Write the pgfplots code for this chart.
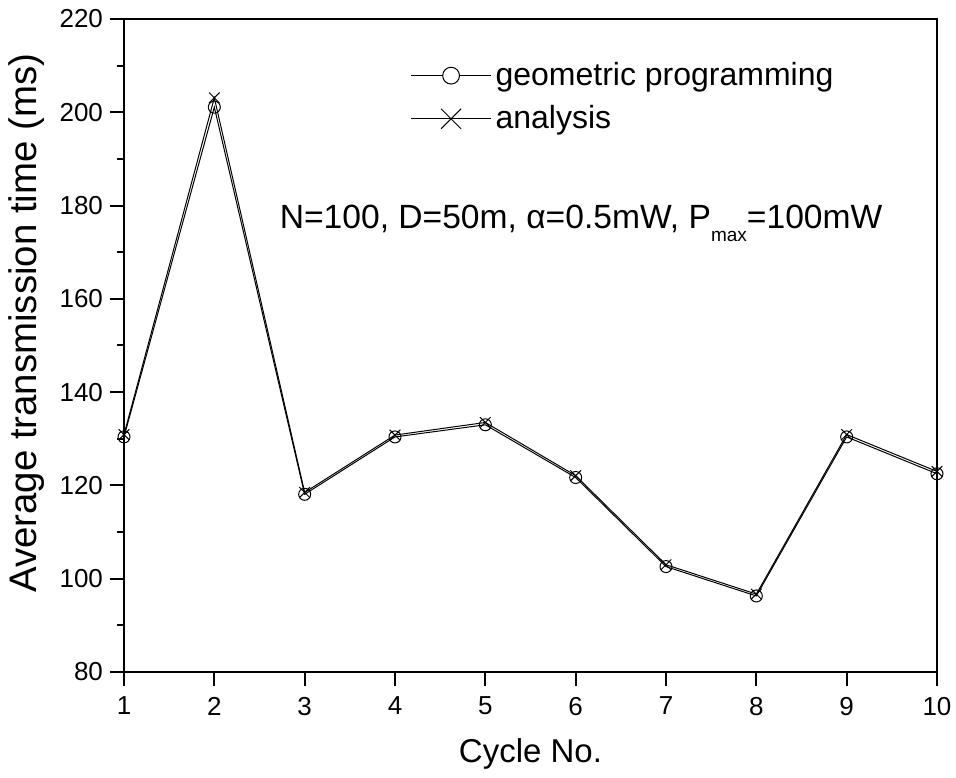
\documentclass[border=0pt]{standalone}
\usepackage{pgfplots}
\pgfplotsset{compat=1.18}
\usepackage{fontspec}
\setmainfont{Liberation Sans}
\begin{document}
\begin{tikzpicture}
\useasboundingbox (-62bp,-53bp) rectangle (416bp,336bp);
\begin{axis}[
  scale only axis,
  width=406.5bp, height=326.5bp,
  xmin=1, xmax=10, ymin=80, ymax=220,
  xtick={1,2,...,10},
  ytick={80,100,...,220},
  minor y tick num=1,
  xtick pos=bottom, ytick pos=left,
  tick align=outside,
  major tick length=7bp, minor tick length=3.5bp,
  axis line style={line width=1bp},
  every tick/.style={line width=1bp, black},
  tick label style={font=\fontsize{13bp}{15bp}\selectfont},
  xticklabel style={yshift=-2bp},
  /pgf/number format/assume math mode=true,
  xlabel={Cycle No.},
  ylabel={Average transmission time (ms)},
  xlabel style={font=\fontsize{16.5bp}{20bp}\selectfont, at={(axis description cs:0.5,-0.1255)}, anchor=center},
  ylabel style={font=\fontsize{19.2bp}{22bp}\selectfont, at={(axis description cs:-0.1193,0.534)}, anchor=center},
  legend style={at={(0.352,0.940)}, anchor=north west, draw=none, fill=none,
    font=\fontsize{16bp}{18bp}\selectfont, inner sep=0pt, row sep=4.5bp,
    /tikz/every even column/.append style={column sep=0pt}},
  legend cell align=left,
]
\addplot[black, line width=0.5bp, mark=o, mark size=3bp, mark options={line width=0.5bp},
  legend image code/.code={\draw[black,line width=0.5bp] (0bp,0bp) -- (40bp,0bp);
    \draw[black,fill=white,line width=0.5bp] (20bp,0bp) circle (4.2bp);}]
coordinates {(1,130.4) (2,201.1) (3,118.1) (4,130.4) (5,133.0) (6,121.7) (7,102.6) (8,96.3) (9,130.4) (10,122.5)};
\addlegendentry{geometric programming}
\addplot[black, line width=0.5bp, mark=x, mark size=3.75bp, mark options={line width=0.5bp},
  legend image code/.code={\draw[black,line width=0.5bp] (0bp,0bp) -- (40bp,0bp);
    \draw[black,line width=0.5bp] (15bp,-5bp) -- (25bp,5bp) (15bp,5bp) -- (25bp,-5bp);}]
coordinates {(1,130.9) (2,203.1) (3,118.5) (4,130.8) (5,133.5) (6,122.1) (7,103.0) (8,96.7) (9,130.9) (10,123.0)};
\addlegendentry{analysis}
\node[anchor=base, font=\fontsize{16.8bp}{18bp}\selectfont] at (axis cs:6.06,175.1) {N=100, D=50m, α=0.5mW, P\raisebox{-6.5bp}{\fontsize{9.5bp}{10bp}\selectfont max}=100mW};
\end{axis}
\end{tikzpicture}
\end{document}
